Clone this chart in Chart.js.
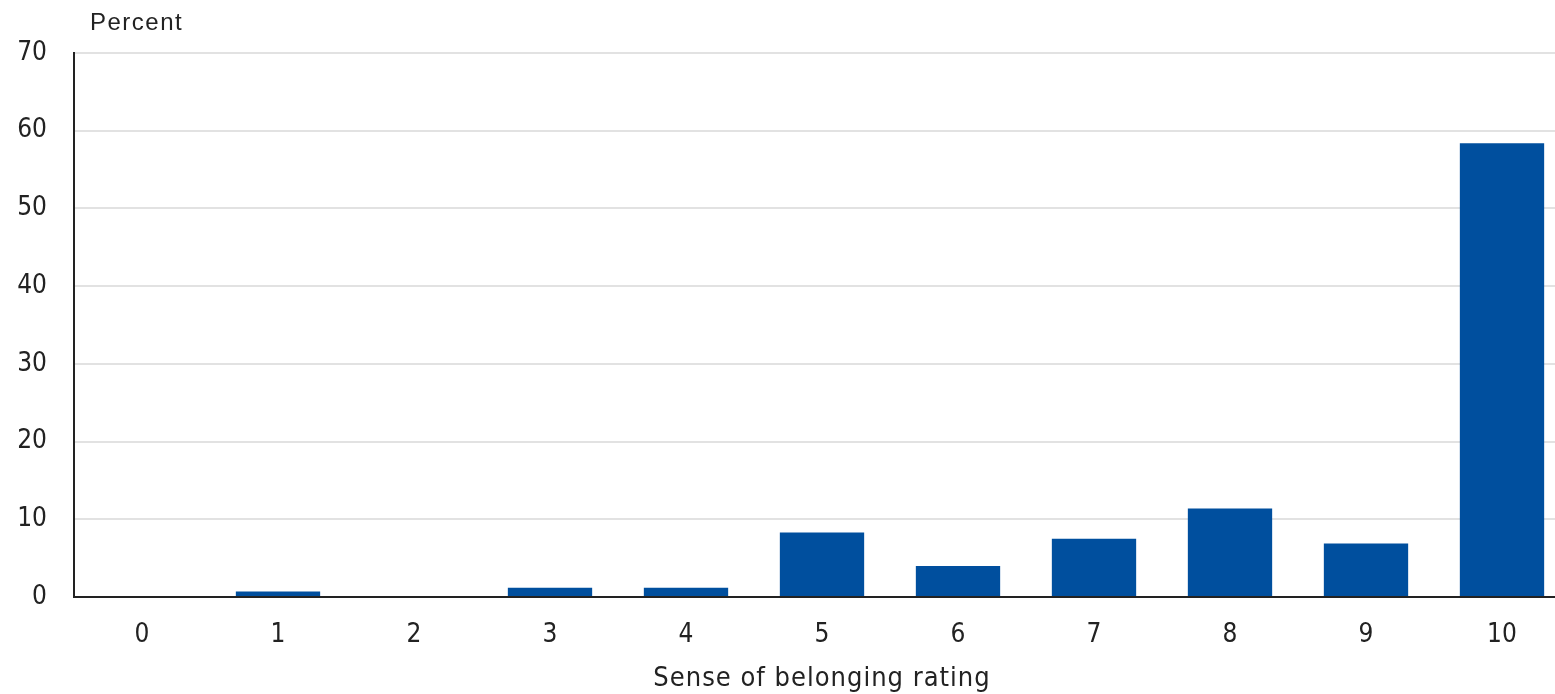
<!DOCTYPE html>
<html><head><meta charset="utf-8">
<script src="https://cdn.jsdelivr.net/npm/chart.js@4.4.1/dist/chart.umd.min.js"></script>
<style>html,body{margin:0;padding:0;background:#fff;overflow:hidden}#wrap{width:1555px;height:694px;position:relative;overflow:hidden}</style>
</head><body><div id="wrap"><canvas id="c" width="1571" height="694"></canvas></div>
<script>
const categories = ["0","1","2","3","4","5","6","7","8","9","10"];
const percentValues = [0, 0.7, 0, 1.2, 1.2, 8.3, 4.0, 7.5, 11.4, 6.9, 58.4];
const yTicks = [0,10,20,30,40,50,60,70];
const yUnitLabel = "Percent";
const xAxisTitle = "Sense of belonging rating";

const FONT = "'Liberation Sans Narrow','DejaVu Sans Condensed','Liberation Sans',Arial,sans-serif";
const UNIT_FONT = "'Liberation Sans',Arial,sans-serif";

const textPlugin = {
  id: 'extraText',
  afterDraw(chart){
    const ctx = chart.ctx;
    const a = chart.chartArea;
    ctx.save();
    ctx.fillStyle = "#222";
    ctx.textBaseline = "middle";
    try { ctx.letterSpacing = "1.5px"; } catch(e) {}
    ctx.font = "24px " + UNIT_FONT;
    ctx.textAlign = "left";
    ctx.fillText(yUnitLabel, 90, 23);
    try { ctx.letterSpacing = "1px"; } catch(e) {}
    ctx.font = "27px " + FONT;
    ctx.textAlign = "center";
    ctx.fillText(xAxisTitle, (a.left + a.right) / 2, 679);
    ctx.restore();
  }
};

new Chart(document.getElementById('c'), {
  type: 'bar',
  data: {
    labels: categories,
    datasets: [{
      data: percentValues,
      backgroundColor: '#004f9e',
      barPercentage: 0.62,
      categoryPercentage: 1.0
    }]
  },
  plugins: [textPlugin],
  options: {
    responsive: false,
    animation: false,
    layout: { padding: { top: 53, right: 1, left: 0, bottom: 0 } },
    plugins: { legend: { display: false }, tooltip: { enabled: false } },
    scales: {
      x: {
        grid: { display: false, drawTicks: false },
        border: { display: true, color: '#222', width: 2 },
        ticks: { color: '#222', font: { family: FONT, size: 26 }, padding: 23, maxRotation: 0 },
        afterFit(scale){ scale.height = 97; }
      },
      y: {
        min: 0, max: 70,
        afterBuildTicks(scale){ scale.ticks = yTicks.map(v => ({ value: v })); },
        grid: { color: '#e2e2e2', lineWidth: 2, drawTicks: false },
        border: { display: true, color: '#222', width: 2 },
        ticks: { color: '#222', font: { family: FONT, size: 26 }, padding: 27 },
        afterFit(scale){ scale.width = 74; }
      }
    }
  }
});
</script></body></html>
